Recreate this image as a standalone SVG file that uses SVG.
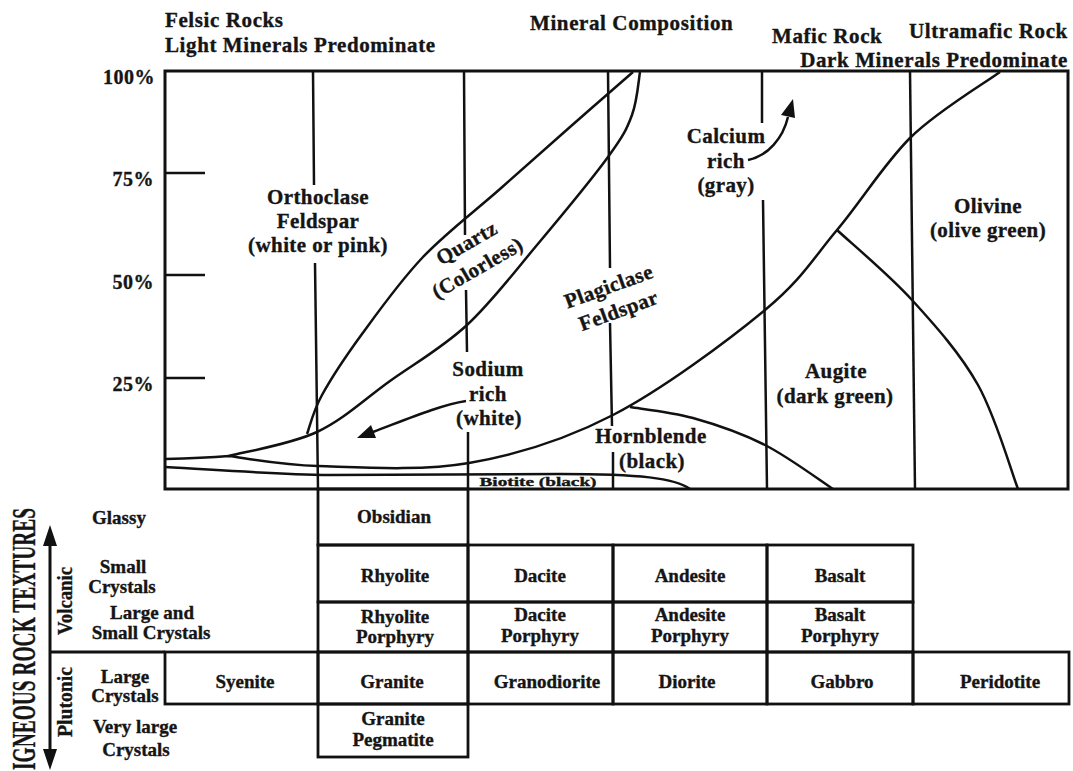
<svg xmlns="http://www.w3.org/2000/svg" width="1073" height="771" viewBox="0 0 1073 771">
<defs>
<style>
text { font-family: "Liberation Serif", "Times New Roman", serif; font-weight: bold; fill: #151515; stroke: #151515; stroke-width: 0.35px; }
.hd { font-size: 21px; letter-spacing: 0.6px; }
.lb { font-size: 21px; text-anchor: middle; letter-spacing: 0.4px; }
.ax { font-size: 20px; text-anchor: end; letter-spacing: 0.5px; }
.tb { font-size: 19px; text-anchor: middle; }
.lf { font-size: 19px; text-anchor: middle; }
.ln { fill: none; stroke: #111; stroke-width: 2.5; }
.bx { fill: none; stroke: #111; stroke-width: 3; }
.cell { fill: none; stroke: #111; stroke-width: 2.8; }
.head { fill: #111; stroke: none; }
</style>
</defs>
<rect x="0" y="0" width="1073" height="771" fill="#ffffff"/>

<g id="header">
<text class="hd" x="165" y="27">Felsic Rocks</text>
<text class="hd" x="165" y="52">Light Minerals Predominate</text>
<text class="hd" x="530" y="30">Mineral Composition</text>
<text class="hd" x="772" y="43">Mafic Rock</text>
<text class="hd" x="909" y="38">Ultramafic Rock</text>
<text class="hd" x="1068" y="67" text-anchor="end">Dark Minerals Predominate</text>
</g>

<g id="percent-axis">
<text class="ax" x="155" y="84">100%</text>
<text class="ax" x="154" y="186">75%</text>
<text class="ax" x="154" y="289">50%</text>
<text class="ax" x="154" y="391">25%</text>
<path class="ln" d="M165 173 H205 M165 275 H205 M165 378 H205"/>
</g>

<g id="chart-frame">
<rect class="bx" x="165" y="71" width="903" height="418"/>
<path class="ln" d="M313 71 L314 185 M315 263 L318 489"/>
<path class="ln" d="M464 71 L465 235 M466 290 L467 352 M468 432 L468 489"/>
<path class="ln" d="M608 71 L610 268 M610 323 L612 426 M613 452 L613 489"/>
<path class="ln" d="M762 71 L762 123 M763 200 L767 489"/>
<path class="ln" d="M910 71 L915 489"/>
</g>

<g id="connectors">
<path id="plagioclase-boundary" class="ln" d="M165 459 C185 458.5 210 457.5 229 456 C243.8 457.7 278 464.8 318 466 C358 467.2 419.8 471.5 469 463 C518.2 454.5 563.7 440.5 613 415 C662.3 389.5 727.7 340.8 765 310 C802.3 279.2 812.8 258.7 837 230 C861.2 201.3 883.7 164.3 910 138 C936.3 111.7 985 83 1000 72"/>
<path id="quartz-right" class="ln" d="M229 456 C243.7 452 290.2 444.5 317 432 C343.8 419.5 365 398.8 390 381 C415 363.2 442.5 347.7 467 325 C491.5 302.3 513.5 273 537 245 C560.5 217 592.2 178.7 608 157 C623.8 135.3 626.7 129.2 632 115 C637.3 100.8 638.7 79.2 640 72"/>
<path id="quartz-left" class="ln" d="M307 434 C309.5 427.5 312.8 411.7 322 395 C331.2 378.3 345.2 357 362 334 C378.8 311 400 281.2 423 257 C446 232.8 475.5 210.7 500 189 C524.5 167.3 547.8 146.5 570 127 C592.2 107.5 622.5 81.2 633 72"/>
<path id="biotite-top" class="ln" d="M165 467 C220 470 270 474 330 475 L560 474 C640 474 675 478 690 489"/>
<path id="hornblende-top" class="ln" d="M630 407 C640.5 408.8 670.5 411.7 693 418 C715.5 424.3 741.7 433.2 765 445 C788.3 456.8 821.7 481.7 833 489"/>
<path id="olivine-boundary" class="ln" d="M837 230 C849.5 241.7 888.5 274.2 912 300 C935.5 325.8 960.3 353.5 978 385 C995.7 416.5 1011.3 471.7 1018 489"/>
<path id="sodium-arrow" class="ln" d="M466 401 C440 405 405 420 373 432"/>
<polygon class="head" points="357,438 376,438 371,425"/>
<path id="calcium-arrow" class="ln" d="M748 160 C768 156 783 138 788 117"/>
<polygon class="head" points="793,99 795,118 781,115"/>
</g>

<g id="mineral-labels">
<text class="lb" x="318" y="204">Orthoclase</text>
<text class="lb" x="318" y="228">Feldspar</text>
<text class="lb" x="318" y="252">(white or pink)</text>
<g id="quartz" transform="translate(470 249) rotate(-30)">
<text class="lb" x="0" y="0">Quartz</text>
<text class="lb" x="-3" y="27">(Colorless)</text>
</g>
<g id="plagioclase" transform="translate(611 293) rotate(-20)">
<text class="lb" x="0" y="0">Plagiclase</text>
<text class="lb" x="1" y="26">Feldspar</text>
</g>
<text class="lb" x="488" y="376">Sodium</text>
<text class="lb" x="488" y="401">rich</text>
<text class="lb" x="489" y="425">(white)</text>
<text class="lb" x="726" y="143">Calcium</text>
<text class="lb" x="726" y="168">rich</text>
<text class="lb" x="726" y="192">(gray)</text>
<text class="lb" x="651" y="443">Hornblende</text>
<text class="lb" x="652" y="468">(black)</text>
<text x="538" y="486" font-size="13" text-anchor="middle" textLength="117" lengthAdjust="spacingAndGlyphs">Biotite (black)</text>
<text class="lb" x="836" y="378">Augite</text>
<text class="lb" x="835" y="403">(dark green)</text>
<text class="lb" x="988" y="213">Olivine</text>
<text class="lb" x="988" y="237">(olive green)</text>
</g>

<g id="texture-axis">
<text x="35" y="770" font-size="34" transform="rotate(-90 35 770)" textLength="262" lengthAdjust="spacingAndGlyphs">IGNEOUS ROCK TEXTURES</text>
<line x1="50" y1="540" x2="50" y2="755" stroke="#111" stroke-width="3"/>
<polygon class="head" points="50,525 43,546 57,546"/>
<polygon class="head" points="50,770 43,749 57,749"/>
<line x1="50" y1="652" x2="165" y2="652" stroke="#111" stroke-width="2.8"/>
<text x="72" y="601" font-size="21" text-anchor="middle" transform="rotate(-90 72 601)" textLength="68" lengthAdjust="spacingAndGlyphs">Volcanic</text>
<text x="72" y="702" font-size="21" text-anchor="middle" transform="rotate(-90 72 702)" textLength="70" lengthAdjust="spacingAndGlyphs">Plutonic</text>
</g>

<g id="texture-labels">
<text class="lf" x="119" y="524">Glassy</text>
<text class="lf" x="123" y="573">Small</text>
<text class="lf" x="122" y="593">Crystals</text>
<text class="lf" x="152" y="619">Large and</text>
<text class="lf" x="151" y="639">Small Crystals</text>
<text class="lf" x="125" y="683">Large</text>
<text class="lf" x="125" y="702">Crystals</text>
<text class="lf" x="135" y="733">Very large</text>
<text class="lf" x="136" y="756">Crystals</text>
</g>

<g id="rock-table">
<g id="obsidian"><rect class="cell" x="318" y="489" width="150" height="56"/><text class="tb" x="394" y="523">Obsidian</text></g>
<g id="rhyolite"><rect class="cell" x="318" y="545" width="150" height="57"/><text class="tb" x="395" y="582">Rhyolite</text></g>
<g id="dacite"><rect class="cell" x="468" y="545" width="145" height="57"/><text class="tb" x="540" y="582">Dacite</text></g>
<g id="andesite"><rect class="cell" x="613" y="545" width="154" height="57"/><text class="tb" x="690" y="582">Andesite</text></g>
<g id="basalt"><rect class="cell" x="767" y="545" width="146" height="57"/><text class="tb" x="840" y="582">Basalt</text></g>
<g id="rhyolite-porphyry"><rect class="cell" x="318" y="602" width="150" height="50"/><text class="tb" x="395" y="623">Rhyolite</text><text class="tb" x="395" y="643">Porphyry</text></g>
<g id="dacite-porphyry"><rect class="cell" x="468" y="602" width="145" height="50"/><text class="tb" x="540" y="621">Dacite</text><text class="tb" x="540" y="642">Porphyry</text></g>
<g id="andesite-porphyry"><rect class="cell" x="613" y="602" width="154" height="50"/><text class="tb" x="690" y="621">Andesite</text><text class="tb" x="690" y="642">Porphyry</text></g>
<g id="basalt-porphyry"><rect class="cell" x="767" y="602" width="146" height="50"/><text class="tb" x="840" y="621">Basalt</text><text class="tb" x="840" y="642">Porphyry</text></g>
<g id="syenite"><rect class="cell" x="165" y="652" width="153" height="52"/><text class="tb" x="245" y="688">Syenite</text></g>
<g id="granite"><rect class="cell" x="318" y="652" width="150" height="52"/><text class="tb" x="392" y="688">Granite</text></g>
<g id="granodiorite"><rect class="cell" x="468" y="652" width="145" height="52"/><text class="tb" x="547" y="688">Granodiorite</text></g>
<g id="diorite"><rect class="cell" x="613" y="652" width="154" height="52"/><text class="tb" x="687" y="688">Diorite</text></g>
<g id="gabbro"><rect class="cell" x="767" y="652" width="146" height="52"/><text class="tb" x="842" y="688">Gabbro</text></g>
<g id="peridotite"><rect class="cell" x="913" y="652" width="156" height="52"/><text class="tb" x="1000" y="688">Peridotite</text></g>
<g id="granite-pegmatite"><rect class="cell" x="318" y="704" width="150" height="53"/><text class="tb" x="393" y="725">Granite</text><text class="tb" x="393" y="746">Pegmatite</text></g>
</g>
</svg>
